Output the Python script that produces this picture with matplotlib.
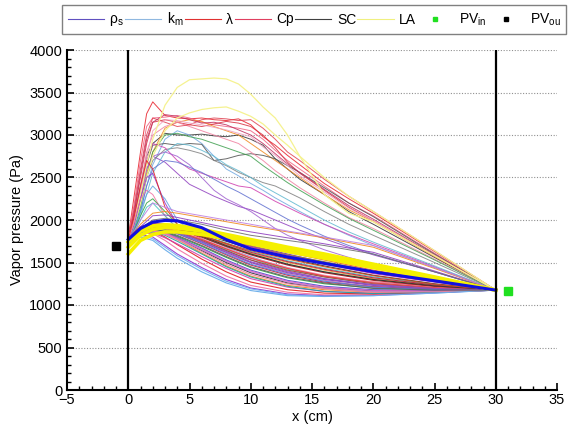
import numpy as np
import matplotlib
matplotlib.use('Agg')
import matplotlib.pyplot as plt
from matplotlib.lines import Line2D
from matplotlib.ticker import MultipleLocator

plt.rcParams['font.family'] = ['Liberation Sans', 'DejaVu Sans']
plt.rcParams['mathtext.default'] = 'regular'

# x positions (cm) where the profiles were read
x_fine = [0, 0.5, 1, 1.5, 2, 3, 4, 5, 6, 7, 8, 9, 10, 11, 12, 13, 14, 16, 18, 20, 25, 30]
x_coarse = [0, 1, 2, 3, 4, 6, 8, 10, 13, 16, 20, 25, 30]

# high peak profiles (Pa) on x_fine
upper = [
    [1800, 2300, 2800, 3250, 3390, 3230, 3200, 3190, 3200, 3180, 3170, 3190, 3120, 2980, 2880, 2760, 2650, 2430, 2250, 2080, 1630, 1175],
    [1780, 2200, 2700, 3100, 3200, 3210, 3230, 3200, 3150, 3120, 3100, 3080, 3050, 2950, 2820, 2700, 2600, 2400, 2200, 2050, 1610, 1175],
    [1760, 2100, 2500, 2900, 3150, 3180, 3150, 3120, 3100, 3130, 3160, 3140, 3100, 3000, 2850, 2680, 2550, 2350, 2150, 1990, 1580, 1175],
    [1750, 2050, 2400, 2750, 2900, 3020, 3000, 3000, 3010, 2990, 2980, 3000, 2950, 2880, 2720, 2600, 2480, 2300, 2100, 1950, 1560, 1175],
    [1740, 1950, 2200, 2550, 2800, 3080, 3150, 3180, 3160, 3100, 3050, 3000, 2900, 2800, 2700, 2600, 2500, 2300, 2120, 1980, 1570, 1175],
    [1730, 1900, 2100, 2400, 2650, 2950, 3050, 3000, 2900, 2750, 2600, 2520, 2430, 2350, 2260, 2180, 2100, 1950, 1820, 1700, 1440, 1175],
    [1720, 1950, 2250, 2600, 2750, 2680, 2550, 2420, 2350, 2280, 2220, 2160, 2120, 2060, 2000, 1940, 1880, 1780, 1680, 1590, 1390, 1175],
    [1750, 2000, 2300, 2650, 2880, 2900, 2880, 2900, 2890, 2700, 2720, 2760, 2780, 2760, 2720, 2640, 2560, 2380, 2200, 2040, 1600, 1175],
    [1740, 1950, 2200, 2500, 2700, 2830, 2850, 2820, 2780, 2700, 2640, 2560, 2500, 2440, 2400, 2330, 2260, 2100, 1950, 1820, 1500, 1175],
    [1760, 2050, 2400, 2800, 3000, 3100, 3150, 3100, 3050, 3000, 2950, 2900, 2800, 2700, 2580, 2480, 2380, 2200, 2030, 1900, 1540, 1175],
    [1730, 1900, 2150, 2500, 2800, 3000, 3020, 2980, 2950, 2900, 2850, 2800, 2750, 2640, 2540, 2440, 2350, 2180, 2020, 1880, 1530, 1175],
    [1750, 2000, 2350, 2700, 2900, 2850, 2700, 2600, 2550, 2500, 2450, 2400, 2380, 2300, 2220, 2150, 2080, 1950, 1830, 1720, 1450, 1175],
    [1720, 1850, 2050, 2300, 2550, 2800, 2900, 2880, 2820, 2750, 2650, 2580, 2500, 2400, 2320, 2240, 2160, 2000, 1860, 1740, 1460, 1175],
    [1770, 2150, 2600, 3000, 3200, 3150, 3100, 3120, 3180, 3200, 3190, 3170, 3180, 3080, 2950, 2800, 2700, 2480, 2280, 2100, 1640, 1175],
    [1740, 2000, 2300, 2600, 2750, 2800, 2750, 2650, 2500, 2350, 2250, 2180, 2100, 2000, 1900, 1820, 1760, 1650, 1560, 1480, 1330, 1175],
    [1720, 1880, 2100, 2400, 2600, 2700, 2680, 2620, 2560, 2480, 2400, 2330, 2250, 2170, 2090, 2010, 1940, 1810, 1700, 1600, 1390, 1175],
    [1770, 2100, 2550, 2950, 3150, 3240, 3220, 3180, 3140, 3150, 3120, 3060, 3000, 2900, 2780, 2660, 2560, 2360, 2170, 2010, 1590, 1175],
    [1750, 2000, 2350, 2750, 3050, 3180, 3170, 3140, 3120, 3090, 3060, 3020, 2980, 2860, 2760, 2640, 2520, 2330, 2140, 1990, 1580, 1175],
]
upper_colors = ['#e8202a', '#f06080', '#d83040', '#303030', '#f08a20', '#70a8e0',
                '#9040c0', '#505050', '#808080', '#f080a0', '#40a050', '#d040b0',
                '#60b8d0', '#e04050', '#a060d0', '#6070d0', '#c03060', '#f0a0c0']

# LA profiles with the highest peaks (Pa) on x_fine
la_high = [
    [1780, 2000, 2300, 2650, 2950, 3350, 3560, 3650, 3660, 3670, 3660, 3600, 3480, 3330, 3200, 3000, 2750, 2300, 2080, 1980, 1580, 1175],
    [1760, 1950, 2200, 2500, 2750, 3050, 3200, 3260, 3300, 3320, 3330, 3280, 3220, 3130, 3000, 2880, 2750, 2500, 2280, 2100, 1640, 1175],
]

# short spikes falling back into the main bundle (Pa) on x_fine
spikes = [
    [1750, 1950, 2250, 2500, 2550, 2200, 1950, 1850, 1780, 1700, 1640, 1580, 1530, 1480, 1440, 1400, 1370, 1310, 1270, 1240, 1200, 1175],
    [1760, 2000, 2250, 2350, 2300, 2050, 1900, 1820, 1750, 1680, 1610, 1550, 1500, 1450, 1410, 1370, 1340, 1290, 1250, 1220, 1190, 1175],
    [1740, 1900, 2100, 2300, 2400, 2250, 2000, 1880, 1800, 1740, 1680, 1620, 1570, 1520, 1480, 1440, 1400, 1340, 1290, 1260, 1210, 1175],
    [1730, 1880, 2050, 2200, 2250, 2100, 1950, 1870, 1800, 1740, 1690, 1640, 1600, 1560, 1520, 1480, 1450, 1390, 1340, 1300, 1230, 1175],
    [1770, 2050, 2400, 2700, 2600, 2150, 1950, 1850, 1780, 1720, 1660, 1610, 1560, 1510, 1470, 1430, 1400, 1340, 1300, 1270, 1220, 1175],
    [1720, 1850, 2000, 2150, 2200, 2050, 1900, 1820, 1760, 1700, 1650, 1600, 1550, 1500, 1460, 1420, 1390, 1330, 1290, 1260, 1210, 1175],
]
spike_colors = ['#9030d0', '#f070a0', '#60a0e0', '#30a040', '#e02020', '#40c0c0']

# curves sitting just above the main bundle (Pa) on x_coarse
mid = [
    [1760, 1950, 2080, 2100, 2080, 2030, 1980, 1930, 1860, 1790, 1680, 1430, 1175],
    [1750, 1920, 2050, 2060, 2030, 1970, 1910, 1860, 1790, 1720, 1620, 1400, 1175],
    [1740, 1900, 2000, 2020, 2000, 1950, 1880, 1820, 1760, 1700, 1600, 1390, 1175],
    [1750, 2000, 2200, 2150, 2100, 2050, 2000, 1950, 1870, 1800, 1700, 1440, 1175],
]
mid_colors = ['#f08a20', '#9040c0', '#707070', '#c080e0']

# main bundle (Pa) on x_coarse
lower = [
    [1720, 1800, 1760, 1650, 1550, 1390, 1260, 1170, 1110, 1100, 1110, 1140, 1175],
    [1740, 1830, 1800, 1700, 1600, 1440, 1300, 1200, 1130, 1110, 1115, 1145, 1175],
    [1750, 1850, 1840, 1760, 1660, 1490, 1340, 1230, 1150, 1120, 1120, 1150, 1175],
    [1760, 1870, 1870, 1800, 1710, 1540, 1390, 1270, 1180, 1140, 1130, 1150, 1175],
    [1730, 1840, 1850, 1790, 1720, 1570, 1430, 1310, 1210, 1160, 1140, 1155, 1175],
    [1760, 1880, 1890, 1840, 1770, 1610, 1460, 1340, 1230, 1180, 1150, 1160, 1175],
    [1770, 1890, 1900, 1860, 1790, 1640, 1500, 1380, 1260, 1200, 1165, 1165, 1175],
    [1750, 1870, 1890, 1860, 1800, 1670, 1530, 1410, 1290, 1220, 1180, 1170, 1175],
    [1740, 1860, 1880, 1860, 1810, 1690, 1560, 1440, 1320, 1250, 1200, 1180, 1175],
    [1780, 1900, 1920, 1890, 1840, 1720, 1590, 1470, 1350, 1270, 1215, 1185, 1175],
    [1760, 1880, 1910, 1890, 1850, 1740, 1620, 1500, 1380, 1300, 1230, 1190, 1175],
    [1770, 1890, 1920, 1900, 1860, 1760, 1640, 1530, 1410, 1330, 1250, 1200, 1175],
    [1750, 1880, 1910, 1900, 1870, 1780, 1670, 1560, 1440, 1350, 1270, 1210, 1175],
    [1780, 1910, 1940, 1920, 1890, 1800, 1690, 1590, 1470, 1380, 1290, 1220, 1175],
    [1770, 1900, 1930, 1920, 1890, 1810, 1710, 1610, 1500, 1410, 1310, 1230, 1175],
    [1760, 1890, 1930, 1920, 1900, 1820, 1730, 1630, 1520, 1430, 1330, 1240, 1175],
    [1780, 1910, 1950, 1940, 1910, 1840, 1750, 1660, 1550, 1460, 1350, 1250, 1175],
    [1770, 1900, 1940, 1940, 1920, 1850, 1770, 1680, 1570, 1480, 1370, 1270, 1175],
    [1780, 1920, 1960, 1950, 1930, 1870, 1790, 1700, 1600, 1500, 1390, 1280, 1175],
    [1760, 1900, 1950, 1950, 1930, 1870, 1800, 1720, 1620, 1530, 1410, 1290, 1175],
    [1770, 1900, 1940, 1940, 1920, 1860, 1780, 1690, 1590, 1510, 1400, 1285, 1175],
    [1740, 1850, 1870, 1840, 1780, 1650, 1510, 1390, 1270, 1200, 1160, 1160, 1175],
    [1790, 1920, 1950, 1930, 1900, 1820, 1720, 1620, 1510, 1420, 1320, 1235, 1175],
    [1750, 1880, 1900, 1880, 1840, 1730, 1600, 1480, 1360, 1280, 1210, 1180, 1175],
    [1760, 1870, 1880, 1850, 1790, 1660, 1520, 1400, 1280, 1210, 1170, 1165, 1175],
    [1730, 1850, 1860, 1820, 1750, 1600, 1450, 1330, 1220, 1160, 1135, 1150, 1175],
    [1770, 1900, 1930, 1910, 1870, 1770, 1660, 1550, 1430, 1340, 1260, 1205, 1175],
    [1780, 1910, 1940, 1930, 1900, 1810, 1700, 1600, 1480, 1390, 1300, 1225, 1175],
    [1760, 1890, 1920, 1900, 1860, 1750, 1630, 1510, 1390, 1310, 1240, 1195, 1175],
    [1750, 1860, 1870, 1830, 1770, 1630, 1480, 1360, 1250, 1190, 1150, 1155, 1175],
    [1740, 1820, 1780, 1680, 1580, 1420, 1280, 1190, 1120, 1105, 1110, 1140, 1175],
    [1770, 1900, 1935, 1925, 1895, 1815, 1725, 1640, 1540, 1450, 1345, 1245, 1175],
    [1790, 1920, 1955, 1945, 1920, 1855, 1775, 1690, 1585, 1495, 1385, 1275, 1175],
    [1760, 1880, 1900, 1870, 1820, 1700, 1570, 1450, 1330, 1260, 1195, 1175, 1175],
]
lower_colors = ['#60a8e8', '#9030d0', '#f070a0', '#e02020', '#d040b0', '#f08a20',
                '#202020', '#4050d0', '#30a040', '#d02030', '#8040c0', '#a05030',
                '#f090b0', '#b01020', '#f0a040', '#40c0c0', '#303030', '#e030a0',
                '#7030b0', '#e84040', '#909020', '#b090e0', '#c02040', '#5080e0',
                '#e060c0', '#20a0a0', '#f04040', '#303030', '#9050c0', '#f080a0',
                '#70b0f0', '#d05020', '#b040a0', '#606060']

# thick LA band and thick rho_s curve (Pa) on x_coarse
la_band = [
    [1600, 1760, 1830, 1860, 1860, 1830, 1780, 1720, 1630, 1550, 1440, 1310, 1175],
    [1680, 1820, 1890, 1910, 1905, 1870, 1810, 1750, 1660, 1580, 1460, 1320, 1175],
    [1740, 1870, 1930, 1945, 1935, 1890, 1830, 1770, 1680, 1600, 1480, 1330, 1175],
]
rho_thick = [1770, 1900, 1975, 1995, 1990, 1910, 1770, 1660, 1565, 1490, 1390, 1285, 1175]

# boundary vapor pressures
pv_in_x, pv_in = 31, 1160
pv_ou_x, pv_ou = -1, 1700

fig = plt.figure(figsize=(5.68, 4.34), dpi=100)
ax = fig.add_axes([67 / 568, 44 / 434, 490 / 568, 340 / 434])

for ys, c in zip(upper, upper_colors):
    ax.plot(x_fine, ys, color=c, lw=0.7, alpha=0.85)
for ys in la_high:
    ax.plot(x_fine, ys, color='#f5f290', lw=0.9)
for ys, c in zip(spikes, spike_colors):
    ax.plot(x_fine, ys, color=c, lw=0.7, alpha=0.85)
for ys, c in zip(mid, mid_colors):
    ax.plot(x_coarse, ys, color=c, lw=0.7, alpha=0.9)
for ys, c in zip(lower, lower_colors):
    ax.plot(x_coarse, ys, color=c, lw=0.8, alpha=0.9)
for ys in la_band:
    ax.plot(x_coarse, ys, color='#f5f000', lw=2.6)
ax.plot(x_coarse, rho_thick, color='#1010e0', lw=2.2)

ax.axvline(0, color='black', lw=1.6, zorder=5)
ax.axvline(30, color='black', lw=1.6, zorder=5)

ax.plot([pv_in_x], [pv_in], 's', color='#20e020', ms=6, zorder=6)
ax.plot([pv_ou_x], [pv_ou], 's', color='black', ms=6, zorder=6)

ax.set_xlim(-5, 35)
ax.set_ylim(0, 4000)
ax.xaxis.set_major_locator(MultipleLocator(5))
ax.xaxis.set_minor_locator(MultipleLocator(1))
ax.yaxis.set_major_locator(MultipleLocator(500))
ax.yaxis.set_minor_locator(MultipleLocator(100))
ax.tick_params(which='both', direction='in', labelsize=10.5, top=False, right=False)
ax.tick_params(which='major', length=5, width=1.2)
ax.tick_params(which='minor', length=3, width=1)
ax.tick_params(axis='x', pad=2)
ax.yaxis.grid(True, linestyle=(0, (1, 1.5)), color='#909090', lw=0.8)
ax.set_axisbelow(True)
for s in ['top', 'right']:
    ax.spines[s].set_visible(False)
for s in ['left', 'bottom']:
    ax.spines[s].set_linewidth(1.5)

ax.set_xlabel('x (cm)', fontsize=10.5, labelpad=2)
ax.set_ylabel('Vapor pressure (Pa)', fontsize=10.5, labelpad=4)

handles = [
    Line2D([], [], color='#6050c0', lw=0.8),
    Line2D([], [], color='#90b8e0', lw=0.8),
    Line2D([], [], color='#e03030', lw=0.8),
    Line2D([], [], color='#e04060', lw=0.8),
    Line2D([], [], color='#404040', lw=0.8),
    Line2D([], [], color='#f0f080', lw=0.8),
    Line2D([], [], ls='none', marker='s', color='#20e020', ms=3),
    Line2D([], [], ls='none', marker='s', color='black', ms=3),
]
labels = ['ρ$_{s}$', 'k$_{m}$', 'λ', 'Cp', 'SC', 'LA', 'PV$_{in}$', 'PV$_{ou}$']
leg = fig.legend(handles, labels, loc='center', ncol=8, mode='expand',
                 bbox_to_anchor=(62 / 568, 1 - 37 / 434, 504 / 568, 35 / 434),
                 fontsize=10, handlelength=2.6, handletextpad=0.4, columnspacing=0.6,
                 fancybox=False, edgecolor='#606060', borderaxespad=0)
leg.get_frame().set_linewidth(1.0)

fig.savefig('out.png', dpi=100)
